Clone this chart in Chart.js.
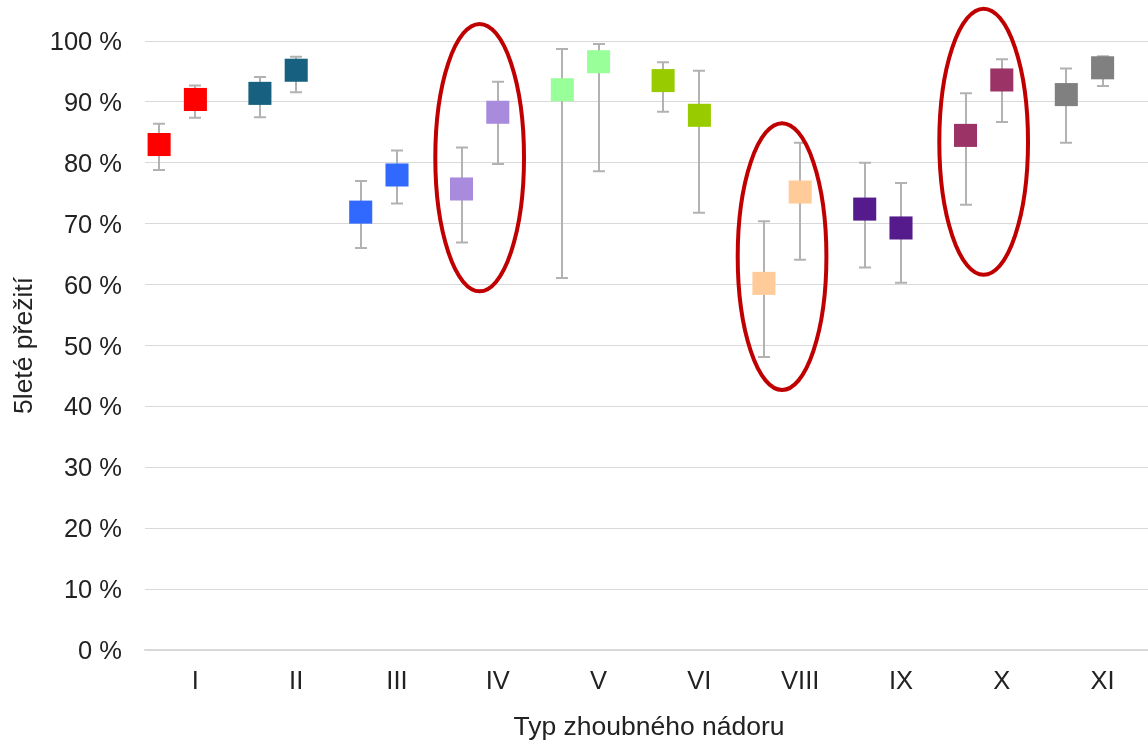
<!DOCTYPE html>
<html lang="cs">
<head>
<meta charset="utf-8">
<title>5leté přežití podle typu zhoubného nádoru</title>
<script src="https://cdn.jsdelivr.net/npm/chart.js@4.4.1/dist/chart.umd.min.js"></script>
<style>
  html, body { margin: 0; padding: 0; background: #ffffff; overflow: hidden; }
  #wrap { width: 1148px; height: 742px; position: relative; overflow: hidden; }
</style>
</head>
<body>
<div id="wrap"><canvas id="chart" width="1153" height="742"></canvas></div>
<script>
// Typy zhoubných nádorů (osa x)
const categories = ['I', 'II', 'III', 'IV', 'V', 'VI', 'VIII', 'IX', 'X', 'XI'];

// Skupina 1: odhad 5letého přežití (%) a meze intervalu spolehlivosti
const survA = [83.0, 91.4, 71.9, 75.7, 92.0, 93.5, 60.2, 72.4, 84.5, 91.2];
const lowA  = [78.8, 87.5, 66.0, 66.9, 61.1, 88.4, 48.1, 62.8, 73.1, 83.3];
const highA = [86.4, 94.1, 77.0, 82.5, 98.7, 96.5, 70.4, 80.0, 91.4, 95.5];

// Skupina 2: odhad 5letého přežití (%) a meze intervalu spolehlivosti
const survB = [90.4, 95.2, 78.0, 88.3, 96.6, 87.8, 75.2, 69.3, 93.6, 95.6];
const lowB  = [87.4, 91.6, 73.3, 79.8, 78.6, 71.8, 64.1, 60.3, 86.7, 92.6];
const highB = [92.7, 97.4, 82.0, 93.3, 99.5, 95.1, 83.3, 76.7, 97.0, 97.5];

// Hodnoty popisků osy y (%)
const yTicks = [0, 10, 20, 30, 40, 50, 60, 70, 80, 90, 100];

// Zvýrazněné typy a rozsah zvýraznění na ose y (%)
const highlightCats   = ['IV', 'VIII', 'X'];
const highlightTop    = [102.8, 86.5, 105.3];
const highlightBottom = [58.9, 42.7, 61.6];

// Barvy jednotlivých typů
const catColors = ['#FF0000', '#17607F', '#3169FF', '#A98BDE', '#99FF99',
                   '#99CC00', '#FFCC99', '#551A8B', '#9C3366', '#808080'];

const FONT = '"Liberation Sans", Arial, sans-serif';
const TEXT = '#222222';
const GRID = '#d9d9d9';
const SHIFT_A = -0.36;   // posun první skupiny vlevo od středu kategorie

const toPoints = (vals, shift) => vals.map((v, i) => ({ x: i + shift, y: v }));

// Chybové úsečky (intervaly spolehlivosti) pod značkami
const errorBars = {
  id: 'errorBars',
  beforeDatasetsDraw(chart) {
    const { ctx, scales: { x, y } } = chart;
    const sets = [[lowA, highA, SHIFT_A], [lowB, highB, 0]];
    ctx.save();
    ctx.strokeStyle = '#b2b2b2';
    ctx.lineWidth = 2;
    const cap = 6;
    sets.forEach(([lo, hi, shift]) => {
      lo.forEach((l, i) => {
        const px = Math.round(x.getPixelForValue(i + shift));
        const y1 = y.getPixelForValue(l);
        const y2 = y.getPixelForValue(hi[i]);
        ctx.beginPath();
        ctx.moveTo(px, y1); ctx.lineTo(px, y2);
        ctx.moveTo(px - cap, y1); ctx.lineTo(px + cap, y1);
        ctx.moveTo(px - cap, y2); ctx.lineTo(px + cap, y2);
        ctx.stroke();
      });
    });
    ctx.restore();
  }
};

// Elipsy kolem zvýrazněných typů
const highlights = {
  id: 'highlights',
  afterDatasetsDraw(chart) {
    const { ctx, scales: { x, y } } = chart;
    ctx.save();
    ctx.strokeStyle = '#C00000';
    ctx.lineWidth = 4;
    highlightCats.forEach((c, k) => {
      const i = categories.indexOf(c);
      const cx = x.getPixelForValue(i + SHIFT_A / 2);
      const rx = x.getPixelForValue(i + 0.44) - x.getPixelForValue(i);
      const yT = y.getPixelForValue(highlightTop[k]);
      const yB = y.getPixelForValue(highlightBottom[k]);
      ctx.beginPath();
      ctx.ellipse(cx, (yT + yB) / 2, rx, (yB - yT) / 2, 0, 0, Math.PI * 2);
      ctx.stroke();
    });
    ctx.restore();
  }
};

const markerStyle = {
  showLine: false,
  pointStyle: 'rect',
  pointRadius: 16.3,
  pointHoverRadius: 16.3,
  pointBorderWidth: 0,
  pointBackgroundColor: catColors,
  pointBorderColor: catColors
};

new Chart(document.getElementById('chart'), {
  type: 'scatter',
  data: {
    datasets: [
      Object.assign({ label: 'Skupina 1', data: toPoints(survA, SHIFT_A) }, markerStyle),
      Object.assign({ label: 'Skupina 2', data: toPoints(survB, 0) }, markerStyle)
    ]
  },
  options: {
    responsive: false,
    animation: false,
    layout: { autoPadding: false, padding: { top: 41, right: 0, bottom: 0, left: 0 } },
    plugins: {
      legend: { display: false },
      tooltip: { enabled: false }
    },
    scales: {
      x: {
        type: 'linear',
        min: -0.5,
        max: categories.length - 0.5,
        afterBuildTicks: s => { s.ticks = categories.map((_, i) => ({ value: i })); },
        afterFit: s => { s.height = 92; s.paddingLeft = 0; s.paddingRight = 0; },
        grid: { display: false, drawTicks: false },
        border: { display: true, color: GRID, width: 1.5 },
        ticks: {
          autoSkip: false,
          maxRotation: 0,
          padding: 17,
          color: TEXT,
          font: { family: FONT, size: 25.5 },
          callback: v => categories[v] ?? ''
        },
        title: {
          display: true,
          text: 'Typ zhoubného nádoru',
          color: TEXT,
          font: { family: FONT, size: 26.5 },
          padding: { top: 0, bottom: -2 }
        }
      },
      y: {
        min: 0,
        max: 100,
        afterBuildTicks: s => { s.ticks = yTicks.map(v => ({ value: v })); },
        afterFit: s => { s.width = 145; },
        grid: { color: GRID, lineWidth: 1, drawTicks: false },
        border: { display: false },
        ticks: {
          padding: 23,
          labelOffset: 2,
          color: TEXT,
          font: { family: FONT, size: 25.5 },
          callback: v => v + ' %'
        },
        title: {
          display: true,
          text: '5leté přežití',
          color: TEXT,
          font: { family: FONT, size: 26.5 },
          padding: { top: 9, bottom: 0 }
        }
      }
    }
  },
  plugins: [errorBars, highlights]
});
</script>
</body>
</html>
